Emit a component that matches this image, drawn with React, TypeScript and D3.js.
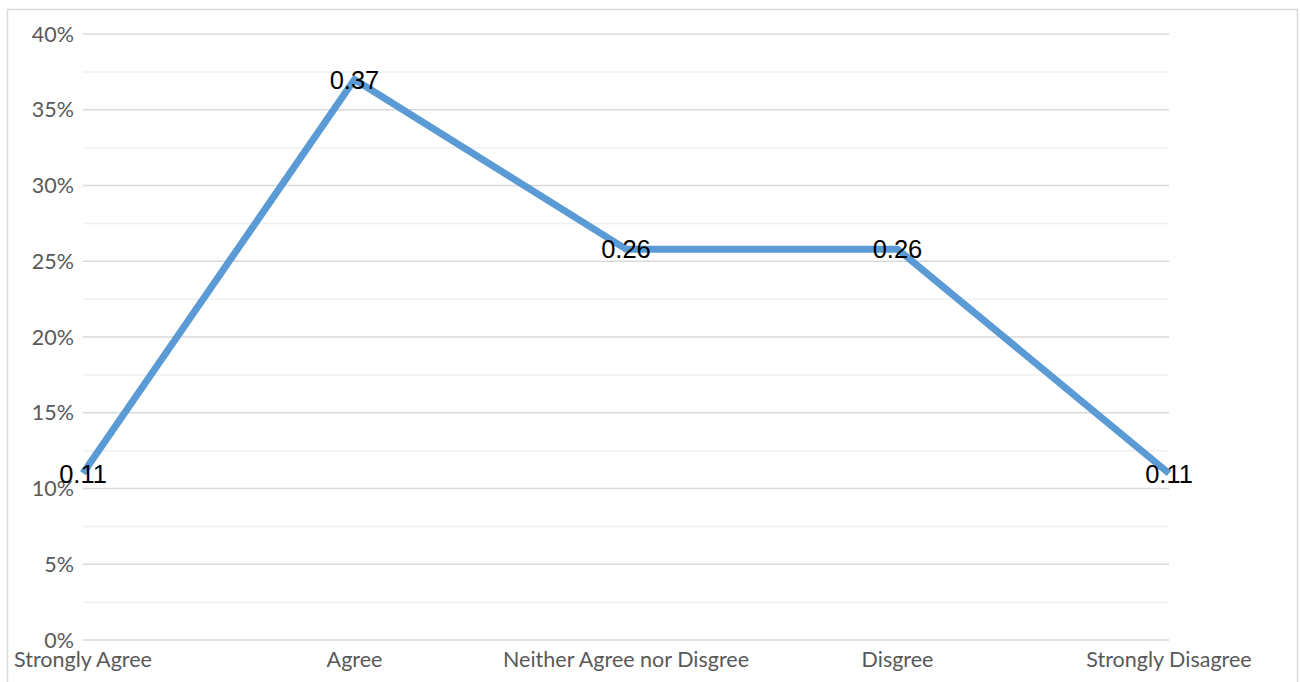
import React from "react";
import * as d3 from "d3";

const categories = ["Strongly Agree", "Agree", "Neither Agree nor Disgree", "Disgree", "Strongly Disagree"];
const values = [0.11, 0.37, 0.258, 0.258, 0.11];
const majorTicks = [0, 0.05, 0.1, 0.15, 0.2, 0.25, 0.3, 0.35, 0.4];
const minorTicks = [0.025, 0.075, 0.125, 0.175, 0.225, 0.275, 0.325, 0.375];

export default function App() {
  const W = 1300, H = 682;
  const left = 83, right = 1169, top = 34, bottom = 640;
  const x = d3.scalePoint<string>().domain(categories).range([left, right]).padding(0);
  const y = d3.scaleLinear().domain([0, 0.4]).range([bottom, top]);
  const line = d3.line<number>().x((_, i) => x(categories[i])!).y((d) => y(d));
  const fmt = d3.format(".0%");
  const vfmt = d3.format(".2f");
  return (
    <svg width={W} height={H} style={{ position: "absolute", left: 0, top: 0, background: "#fff" }}>
      <rect x={7.5} y={9.5} width={1290} height={690} fill="#fff" stroke="#d9d9d9" strokeWidth={1.5} />
      {minorTicks.map((t) => (
        <line key={"m" + t} x1={left} x2={right} y1={y(t)} y2={y(t)} stroke="#f0f0f0" strokeWidth={1.5} />
      ))}
      {majorTicks.map((t) => (
        <line key={"M" + t} x1={left} x2={right} y1={y(t)} y2={y(t)} stroke="#d9d9d9" strokeWidth={1.5} />
      ))}
      {majorTicks.map((t) => (
        <text key={"l" + t} x={74} y={y(t)} dy="0.35em" textAnchor="end" fontFamily="Lato" fontSize={21.5} fill="#595959">
          {fmt(t)}
        </text>
      ))}
      {categories.map((c) => (
        <text key={c} x={x(c)} y={667} textAnchor="middle" fontFamily="Lato" fontSize={21.5} fill="#595959">
          {c}
        </text>
      ))}
      <path d={line(values)!} fill="none" stroke="#5b9bd5" strokeWidth={7} strokeLinejoin="round" />
      {values.map((v, i) => (
        <text key={"d" + i} x={x(categories[i])} y={y(v)} dy="0.36em" textAnchor="middle" fontFamily="Liberation Sans, Arial" fontSize={25.5} fill="#000">
          {vfmt(v)}
        </text>
      ))}
    </svg>
  );
}
